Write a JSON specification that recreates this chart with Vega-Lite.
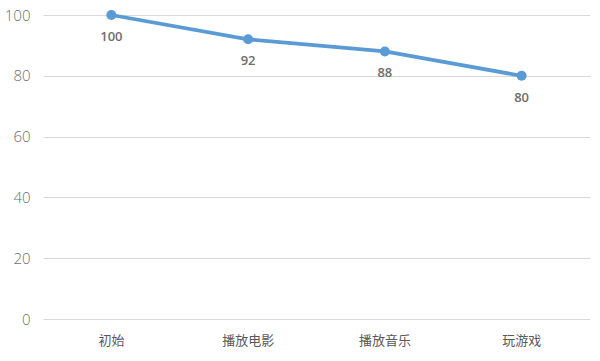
{
  "$schema": "https://vega.github.io/schema/vega-lite/v6.json",
  "autosize": "none",
  "width": 547,
  "height": 304,
  "padding": {"left": 43, "top": 15, "right": 10, "bottom": 42},
  "background": "white",
  "config": {"view": {"stroke": null}, "font": "Noto Sans CJK SC"},
  "data": {"values": [
    {"stage": "初始", "value": 100},
    {"stage": "播放电影", "value": 92},
    {"stage": "播放音乐", "value": 88},
    {"stage": "玩游戏", "value": 80}
  ]},
  "encoding": {
    "x": {"field": "stage", "type": "nominal", "sort": null,
      "scale": {"type": "band", "paddingInner": 0, "paddingOuter": 0},
      "axis": {"title": null, "labelAngle": 0, "domain": false, "ticks": false, "labelPadding": 15, "labelFontSize": 13, "labelColor": "#595959", "grid": false}},
    "y": {"field": "value", "type": "quantitative",
      "scale": {"domain": [0, 100]},
      "axis": {"title": null, "values": [0, 20, 40, 60, 80, 100], "domain": false, "ticks": false, "labelPadding": 13, "labelFontSize": 15, "labelColor": "#6e6e6e", "gridColor": "#d9d9d9", "gridWidth": 1, "labelFont": "Open Sans", "labelFontWeight": 300}}
  },
  "layer": [
    {"mark": {"type": "line", "color": "#5B9BD5", "strokeWidth": 3.8, "point": {"filled": true, "size": 100, "color": "#5B9BD5"}}},
    {"mark": {"type": "text", "dy": 22, "fontSize": 13, "fontWeight": 600, "color": "#6e6e6e", "font": "Open Sans"},
      "encoding": {"text": {"field": "value", "type": "quantitative"}}}
  ]
}
